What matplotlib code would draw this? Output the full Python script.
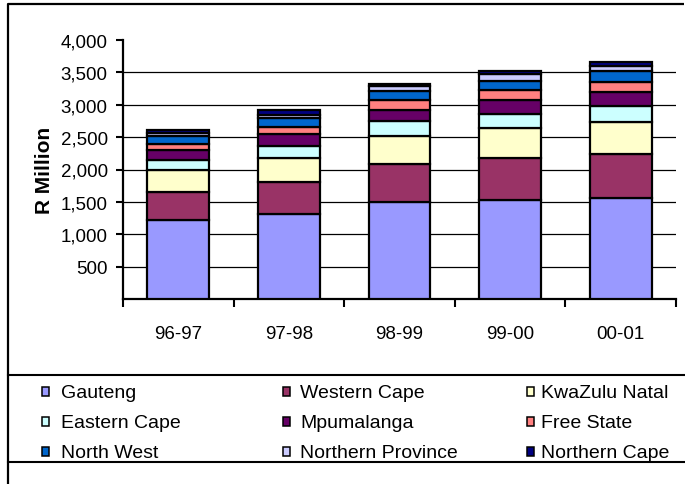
import matplotlib
matplotlib.use("Agg")
import matplotlib.pyplot as plt
from matplotlib.patches import Rectangle
from matplotlib.ticker import FuncFormatter
import numpy as np

plt.rcParams['font.family'] = ['Liberation Sans', 'DejaVu Sans']

years = ['96-97', '97-98', '98-99', '99-00', '00-01']
provinces = ['Gauteng', 'Western Cape', 'KwaZulu Natal',
             'Eastern Cape', 'Mpumalanga', 'Free State',
             'North West', 'Northern Province', 'Northern Cape']

# R million per province, stacked bottom to top
gauteng = [1224, 1307, 1497, 1528, 1558]
western_cape = [432, 498, 591, 653, 679]
kwazulu_natal = [334, 371, 432, 457, 494]
eastern_cape = [155, 185, 222, 217, 247]
mpumalanga = [155, 180, 179, 216, 216]
free_state = [87, 123, 154, 154, 159]
north_west = [133, 129, 134, 149, 161]
northern_province = [46, 46, 73, 98, 86]
northern_cape = [46, 82, 40, 42, 62]

series = [gauteng, western_cape, kwazulu_natal, eastern_cape, mpumalanga,
          free_state, north_west, northern_province, northern_cape]
colors = ['#9999FF', '#993366', '#FFFFCC', '#CCFFFF', '#660066',
          '#FF8080', '#0066CC', '#CCCCFF', '#000080']

W, H = 685, 485
fig = plt.figure(figsize=(W / 100, H / 100), dpi=100)

# plot area in pixel terms
left, right, top, bottom = 123, 676, 41, 300
ax = fig.add_axes([left / W, 1 - bottom / H, (right - left) / W, (bottom - top) / H])

x = np.arange(len(years))
base = np.zeros(len(years))
for vals, col in zip(series, colors):
    ax.bar(x, vals, 0.56, bottom=base, color=col, edgecolor='black',
           linewidth=1.6, zorder=3)
    base += np.array(vals)

ax.set_xlim(-0.5, len(years) - 0.5)
ax.set_ylim(0, 4000)
ax.set_yticks(np.arange(500, 4001, 500))
ax.yaxis.set_major_formatter(FuncFormatter(lambda v, p: f'{int(v):,}'))
for yv in np.arange(500, 4000, 500):
    ax.axhline(yv, color='black', linewidth=0.9, zorder=1)

ax.set_xticks(np.arange(-0.5, len(years)), minor=False)
ax.set_xticklabels([])
ax.set_xticks(x, minor=True)
ax.set_xticklabels(years, minor=True)
ax.tick_params(axis='x', which='major', length=6, width=1.5, direction='out')
ax.tick_params(axis='x', which='minor', length=0, pad=19, labelsize=13.5)
ax.tick_params(axis='y', length=5, width=1.5, direction='out', pad=6, labelsize=13.5)

for s in ['top', 'right']:
    ax.spines[s].set_visible(False)
for s in ['left', 'bottom']:
    ax.spines[s].set_linewidth(1.6)

fig.text(44 / W, 1 - 170 / H, 'R Million', rotation=90, fontsize=15,
         fontweight='bold', ha='center', va='center')

# overlay in pixel coordinates for the frame and legend
ov = fig.add_axes([0, 0, 1, 1], facecolor='none')
ov.set_xlim(0, W)
ov.set_ylim(H, 0)
ov.axis('off')

ov.plot([8, 8, 684.5], [H + 5, 5, 5], color='black', linewidth=1.6,
        solid_capstyle='butt')
ov.plot([8, 684.5], [376, 376], color='black', linewidth=1.5)
ov.plot([8, 684.5], [462.5, 462.5], color='black', linewidth=1.5)

col_marker = [42, 283, 527.5]
col_text = [61, 300, 541]
row_y = [392, 422, 452]
for i, (name, col) in enumerate(zip(provinces, colors)):
    r, c = divmod(i, 3)
    ov.add_patch(Rectangle((col_marker[c], row_y[r] - 4.5), 7, 9,
                           facecolor=col, edgecolor='black', linewidth=1.1))
    ov.text(col_text[c], row_y[r], name, fontsize=14, ha='left',
            va='center_baseline')

fig.savefig('out.png', dpi=100)
